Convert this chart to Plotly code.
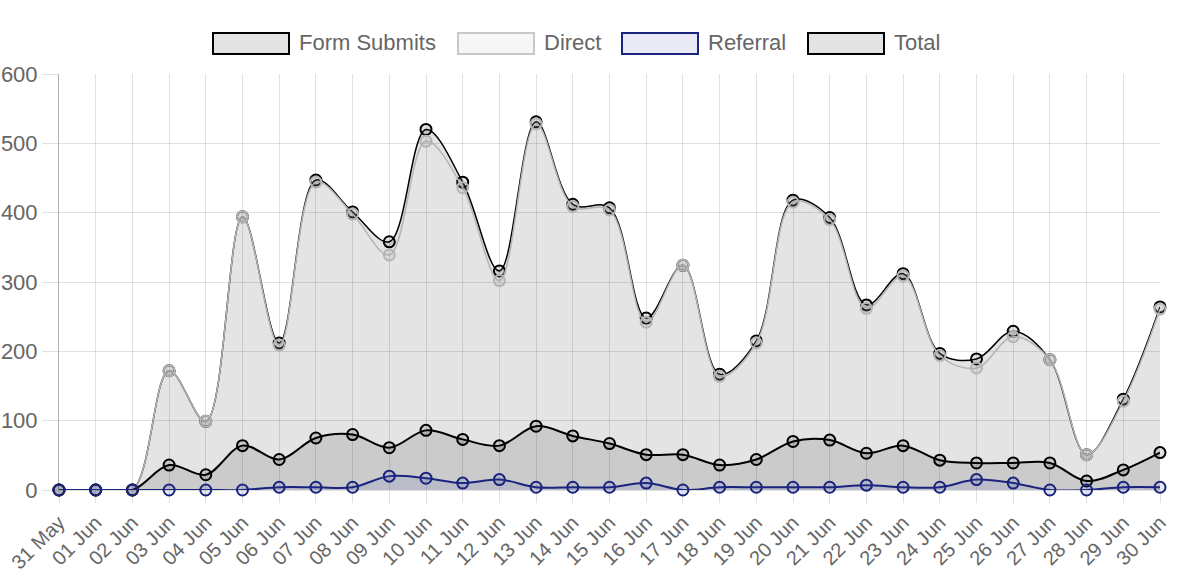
import plotly.graph_objects as go

# daily labels, 31 May .. 30 Jun
dates = ["31 May"] + ["%02d Jun" % d for d in range(1, 31)]

form_submits = [0, 0, 0, 36, 22, 64, 44, 75, 80, 61, 86, 73, 64, 92, 78, 67,
                51, 51, 36, 44, 70, 72, 53, 64, 43, 39, 39, 39, 13, 29, 54]
direct = [0, 0, 0, 172, 99, 394, 209, 444, 398, 339, 503, 436, 302, 528, 409, 404,
          242, 324, 164, 212, 415, 390, 262, 309, 194, 176, 221, 188, 51, 128, 261]
referral = [0, 0, 0, 0, 0, 0, 4, 4, 4, 20, 17, 10, 15, 4, 4, 4,
            10, 0, 4, 4, 4, 4, 7, 4, 4, 15, 10, 0, 0, 4, 4]
total = [0, 0, 0, 172, 99, 394, 212, 447, 401, 358, 520, 444, 316, 531, 412, 407,
         248, 324, 167, 215, 418, 393, 267, 312, 197, 189, 229, 188, 51, 131, 264]

legend_names = ["Form Submits", "Direct", "Referral", "Total"]

font = "Liberation Sans, Arial, sans-serif"
text_col = "#666666"
grid_col = "rgba(0,0,0,0.12)"

fig = go.Figure()


def add_series(y, name, line_col, line_w, fill_col, marker_fill):
    fig.add_trace(go.Scatter(
        x=dates, y=y, name=name,
        mode="lines+markers",
        line=dict(color=line_col, width=line_w, shape="spline", smoothing=1),
        fill="tozeroy", fillcolor=fill_col,
        marker=dict(size=11, color=marker_fill,
                    line=dict(color=line_col, width=2)),
        cliponaxis=False,
        showlegend=False,
    ))


# bottom to top, like the original drawing order
add_series(total, "Total", "#000000", 1.5, "rgba(0,0,0,0.11)", "rgba(0,0,0,0.11)")
add_series(direct, "Direct", "#b4b4b4", 1.5, "rgba(250,250,250,0.04)", "rgba(150,150,150,0.15)")
add_series(form_submits, "Form Submits", "#000000", 2, "rgba(0,0,0,0.11)", "rgba(0,0,0,0.11)")
add_series(referral, "Referral", "#1a237e", 2, "rgba(63,81,181,0.12)", "rgba(63,81,181,0.12)")

# plot area in window pixels: x 59..1160, y 74..490
def px(x):
    return (x - 59) / 1101.0


def py(y):
    return (490 - y) / 416.0


# legend drawn by hand: wide boxes like the original
box_left = [213, 458, 622, 808]
box_fill = ["#e3e3e3", "#f6f6f6", "#e8eaf6", "#e3e3e3"]
box_line = ["#000000", "#c8c8c8", "#1a237e", "#000000"]
shapes = []
annotations = []
for name, bx, fc, lc in zip(legend_names, box_left, box_fill, box_line):
    shapes.append(dict(type="rect", xref="paper", yref="paper",
                       x0=px(bx), x1=px(bx + 76), y0=py(54), y1=py(33),
                       fillcolor=fc, line=dict(color=lc, width=2)))
    annotations.append(dict(xref="paper", yref="paper", x=px(bx + 84), y=py(43),
                            xanchor="left", yanchor="middle", showarrow=False,
                            text=name, font=dict(family=font, size=22, color=text_col)))

fig.update_layout(
    width=1177, height=577,
    margin=dict(l=59, r=17, t=74, b=87),
    paper_bgcolor="white", plot_bgcolor="white",
    font=dict(family=font, size=22, color=text_col),
    shapes=shapes, annotations=annotations,
    showlegend=False,
    xaxis=dict(
        type="category", range=[0, 30], automargin=False,
        showgrid=True, gridcolor=grid_col, gridwidth=1,
        ticks="outside", ticklen=12, tickcolor=grid_col,
        tickangle=-45, tickfont=dict(size=20, color=text_col),
        showline=True, linecolor=grid_col, zeroline=False,
    ),
    yaxis=dict(
        range=[0, 600], dtick=100, automargin=False,
        showgrid=True, gridcolor=grid_col, gridwidth=1,
        ticks="outside", ticklen=16, tickcolor=grid_col,
        tickfont=dict(size=22, color=text_col),
        showline=True, linecolor="rgba(0,0,0,0.3)", zeroline=False,
    ),
)

# drop the default 8px page margin so the figure fills the window
fig.write_html("out.html", config={"displayModeBar": False},
               post_script="document.body.style.margin='0';document.body.style.overflow='hidden';")
